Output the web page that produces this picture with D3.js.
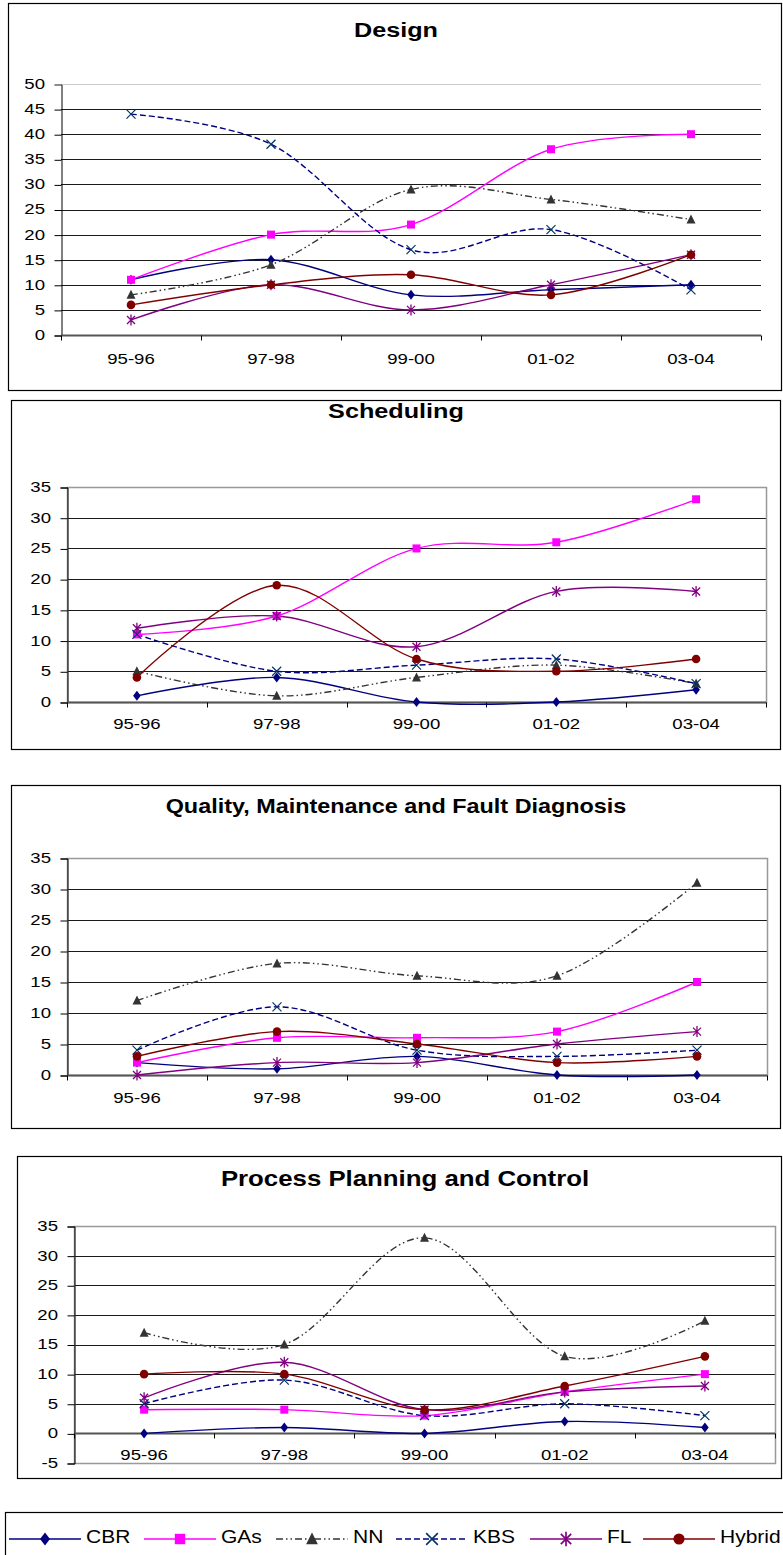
<!DOCTYPE html>
<html>
<head>
<meta charset="utf-8">
<script src="https://cdn.jsdelivr.net/npm/d3@7"></script>
<style>
  body { margin: 0; background: #fff; }
  svg { display: block; font-family: "Liberation Sans", Arial, sans-serif; }
</style>
</head>
<body>
<svg id="chart" width="783" height="1555"></svg>
<script>
// categories and series
var categories = ["95-96", "97-98", "99-00", "01-02", "03-04"];
var seriesNames = ["CBR", "GAs", "NN", "KBS", "FL", "Hybrid"];

// values per panel, in the order of seriesNames
var designValues = [
  [11, 15, 8, 9, 10],
  [11, 20, 22, 37, 40],
  [8, 14, 29, 27, 23],
  [44, 38, 17, 21, 9],
  [3, 10, 5, 10, 16],
  [6, 10, 12, 8, 16]
];
var schedulingValues = [
  [1, 4, 0, 0, 2],
  [11, 14, 25, 26, 33],
  [5, 1, 4, 6, 3],
  [11, 5, 6, 7, 3],
  [12, 14, 9, 18, 18],
  [4, 19, 7, 5, 7]
];
var qualityValues = [
  [2, 1, 3, 0, 0],
  [2, 6, 6, 7, 15],
  [12, 18, 16, 16, 31],
  [4, 11, 4, 3, 4],
  [0, 2, 2, 5, 7],
  [3, 7, 5, 2, 3]
];
var processValues = [
  [0, 1, 0, 2, 1],
  [4, 4, 3, 7, 10],
  [17, 15, 33, 13, 19],
  [5, 9, 3, 5, 3],
  [6, 12, 4, 7, 8],
  [10, 10, 4, 8, 13]
];

var panelTitles = ["Design", "Scheduling", "Quality, Maintenance and Fault Diagnosis", "Process Planning and Control"];
var panelDomains = [[0, 50], [0, 35], [0, 35], [-5, 35]];

// series look
var lineColors = ["#000080", "#ff00ff", "#333333", "#000080", "#800080", "#800000"];
var markerColors = ["#000080", "#ff00ff", "#333333", "#003366", "#800080", "#800000"];
var dashes = [null, null, "7,3,1.5,3,1.5,3", "6,3", null, null];

// text in the picture is a bit wider than Arial
var stretch = 1.2;

var svg = d3.select("#chart");

// panel geometry
var panels = [
  {box: [8, 3, 773, 387], titleY: 30, titleX: 396, titleSize: 21, left: 61, right: 761, top: 84, bottom: 335, labelY: 359, values: designValues, border: false},
  {box: [11, 400, 769, 349], titleY: 411, titleX: 396, titleSize: 21, left: 67, right: 766, top: 487, bottom: 702, labelY: 724, values: schedulingValues, border: true},
  {box: [11, 785, 769, 343], titleY: 807, titleX: 396, titleSize: 19.5, left: 67, right: 767, top: 858, bottom: 1075, labelY: 1098, values: qualityValues, border: true},
  {box: [17, 1156, 764, 322], titleY: 1179, titleX: 405, titleSize: 21.5, left: 74, right: 775, top: 1226, bottom: 1463, labelY: 1455, values: processValues, border: true}
];

function wideText(g, x, y, str, size, anchor, bold) {
  return g.append("text")
    .attr("transform", "translate(" + x + "," + y + ") scale(" + stretch + ",1)")
    .attr("text-anchor", anchor).attr("dominant-baseline", "central")
    .attr("font-size", size).attr("font-weight", bold ? "bold" : "normal")
    .attr("fill", "#000")
    .text(str);
}

function drawMarker(g, type, x, y, color, k) {
  k = k || 1;
  var t = "translate(" + x + "," + y + ") scale(" + k + ")";
  if (type == 0) {
    g.append("path").attr("d", "M0,-5L3.8,0L0,5L-3.8,0Z").attr("transform", t).attr("fill", color);
  } else if (type == 1) {
    g.append("rect").attr("x", -4).attr("y", -4).attr("width", 8).attr("height", 8)
      .attr("transform", t).attr("fill", color);
  } else if (type == 2) {
    g.append("path").attr("d", "M0,-5L4.5,4L-4.5,4Z").attr("transform", t).attr("fill", color);
  } else if (type == 3) {
    g.append("path").attr("d", "M-4.5,-4.5L4.5,4.5M-4.5,4.5L4.5,-4.5")
      .attr("transform", t).attr("stroke", color).attr("stroke-width", 1.2).attr("fill", "none");
  } else if (type == 4) {
    g.append("path").attr("d", "M-4,-4L4,4M-4,4L4,-4M0,-5.5L0,5.5")
      .attr("transform", t).attr("stroke", color).attr("stroke-width", 1.3).attr("fill", "none");
  } else {
    g.append("circle").attr("r", 4.3).attr("transform", t).attr("fill", color);
  }
}

panels.forEach(function(p, pi) {
  var g = svg.append("g");
  g.append("rect").attr("x", p.box[0] + 0.5).attr("y", p.box[1] + 0.5)
    .attr("width", p.box[2]).attr("height", p.box[3])
    .attr("fill", "none").attr("stroke", "#000").attr("stroke-width", 1.2);

  wideText(g, p.titleX, p.titleY, panelTitles[pi], p.titleSize, "middle", true);

  var x = d3.scaleBand().domain(categories).range([p.left, p.right]);
  var y = d3.scaleLinear().domain(panelDomains[pi]).range([p.bottom, p.top]);
  var tickVals = d3.range(panelDomains[pi][0], panelDomains[pi][1] + 1, 5);

  // gridlines
  g.append("g").selectAll("line").data(tickVals.filter(function(v) { return v != 0; }))
    .enter().append("line")
    .attr("x1", p.left).attr("x2", p.right)
    .attr("y1", function(v) { return Math.round(y(v)) + 0.5; })
    .attr("y2", function(v) { return Math.round(y(v)) + 0.5; })
    .attr("stroke", function(v) { return (!p.border && v == panelDomains[pi][1]) ? "#cccccc" : "#1a1a1a"; })
    .attr("stroke-width", 1);

  if (p.border) {
    g.append("rect").attr("x", p.left + 0.5).attr("y", Math.round(p.top) + 0.5)
      .attr("width", p.right - p.left).attr("height", Math.round(p.bottom) - Math.round(p.top))
      .attr("fill", "none").attr("stroke", "#999").attr("stroke-width", 1.5);
  }

  // y axis
  var yAxis = d3.axisLeft(y).tickValues(tickVals).tickSize(7).tickFormat("");
  var ya = g.append("g").attr("transform", "translate(" + (p.left + 0.5) + ",0.5)").call(yAxis);
  ya.select(".domain").attr("stroke", "#000");
  ya.selectAll(".tick line").attr("stroke", function(v) { return (!p.border && v == panelDomains[pi][1]) ? "#999" : "#000"; });
  tickVals.forEach(function(v) {
    wideText(g, p.left - 16, y(v), v, 15.5, "end", false);
  });

  // x axis at zero
  var y0 = Math.round(y(0)) + 0.5;
  g.append("line").attr("x1", p.left).attr("x2", p.right).attr("y1", y0).attr("y2", y0)
    .attr("stroke", "#555").attr("stroke-width", 2);
  var bounds = categories.map(function(c) { return x(c); }).concat([p.right]);
  g.append("g").selectAll("line").data(bounds).enter().append("line")
    .attr("x1", function(d) { return Math.round(d) + 0.5; })
    .attr("x2", function(d) { return Math.round(d) + 0.5; })
    .attr("y1", y0).attr("y2", y0 + 5).attr("stroke", "#000");
  categories.forEach(function(c) {
    wideText(g, x(c) + x.bandwidth() / 2, p.labelY, c, 15.5, "middle", false);
  });

  // series
  var line = d3.line()
    .x(function(d, i) { return x(categories[i]) + x.bandwidth() / 2; })
    .y(function(d) { return y(d); })
    .curve(d3.curveCardinal.tension(0));

  p.values.forEach(function(vals, si) {
    g.append("path").attr("d", line(vals)).attr("fill", "none")
      .attr("stroke", lineColors[si]).attr("stroke-width", 1.4)
      .attr("stroke-dasharray", dashes[si]);
  });
  p.values.forEach(function(vals, si) {
    vals.forEach(function(v, i) {
      drawMarker(g, si, x(categories[i]) + x.bandwidth() / 2, y(v), markerColors[si]);
    });
  });
});

// legend
var leg = svg.append("g");
leg.append("rect").attr("x", 5.5).attr("y", 1512.5).attr("width", 800).attr("height", 60)
  .attr("fill", "none").attr("stroke", "#000").attr("stroke-width", 1.2);
var legendX = [9, 144, 276, 396, 530, 643];
var legY = 1539;
seriesNames.forEach(function(name, si) {
  var x0 = legendX[si];
  leg.append("line").attr("x1", x0).attr("x2", x0 + 72).attr("y1", legY).attr("y2", legY)
    .attr("stroke", lineColors[si]).attr("stroke-width", 1.4).attr("stroke-dasharray", dashes[si]);
  drawMarker(leg, si, x0 + 36, legY, markerColors[si], 1.3);
  wideText(leg, x0 + 77, legY - 2, name, 17.5, "start", false);
});
</script>
</body>
</html>
